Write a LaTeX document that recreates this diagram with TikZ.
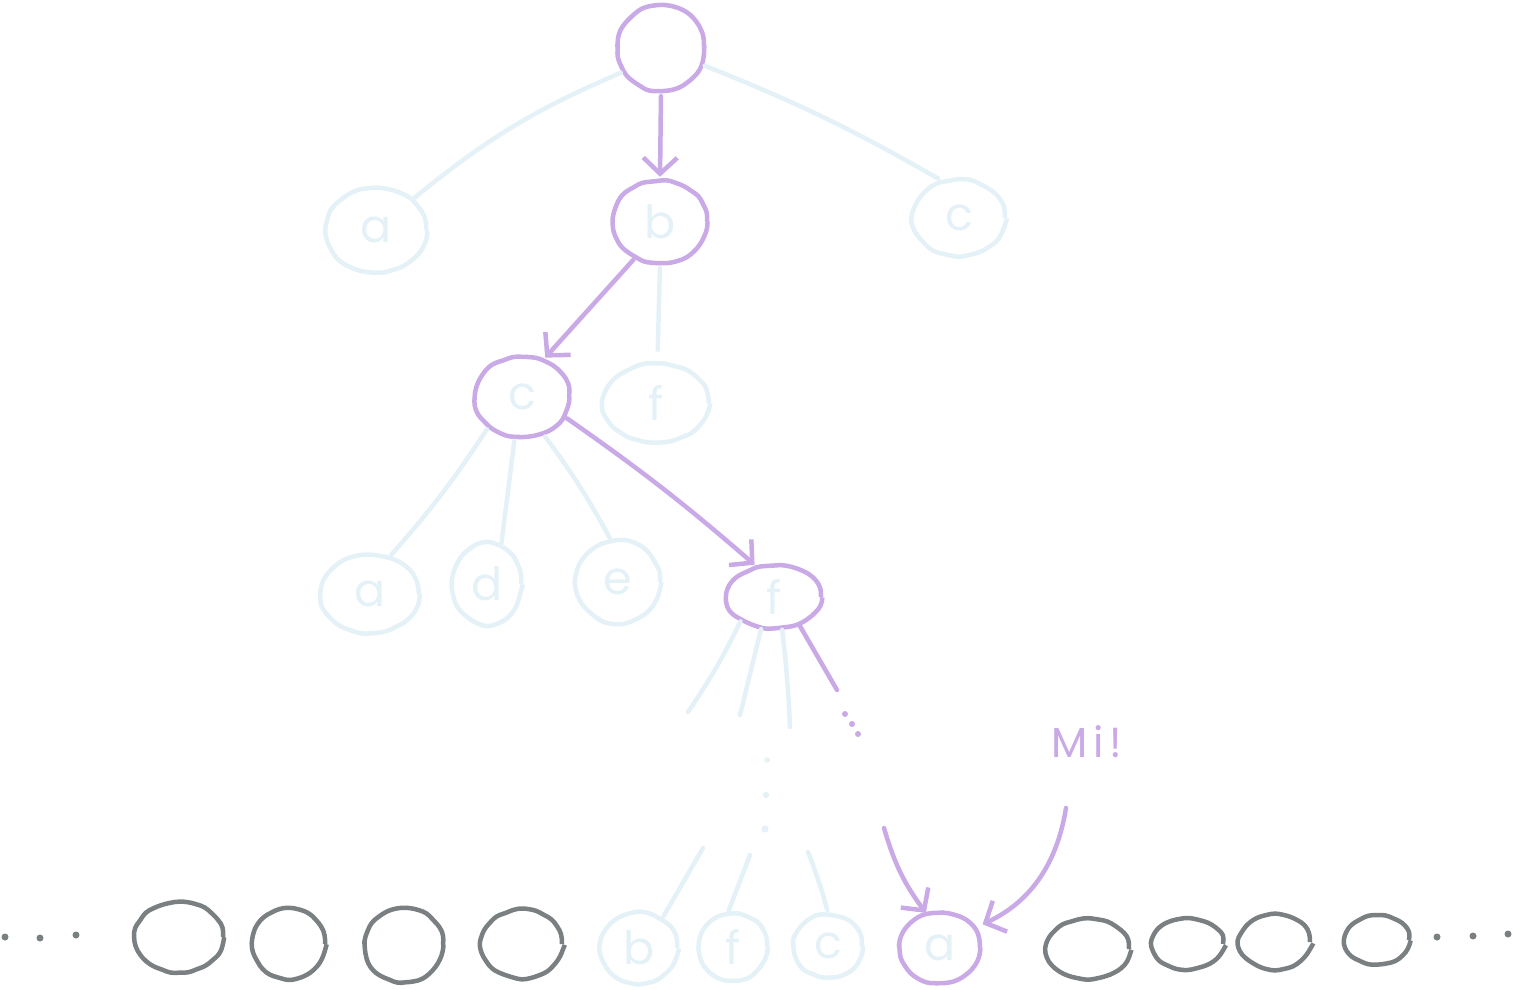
\documentclass[tikz,border=0pt]{standalone}
\usepackage{fontspec}
\setmainfont{Poppins}
\newfontfamily\shout{Poppins}[LetterSpace=14]
\usetikzlibrary{shapes.geometric,arrows.meta,decorations.pathmorphing}
\definecolor{lilac}{HTML}{C9A9E6}
\definecolor{mist}{HTML}{E4F1F7}
\definecolor{slate}{HTML}{7A7F82}
\pgfmathsetseed{11}
\begin{document}
\begin{tikzpicture}[x=1pt,y=-1pt,
  sketch/.style={decorate,decoration={random steps,segment length=9pt,amplitude=0.9pt},rounded corners=4pt},
  bubble/.style={ellipse,inner sep=0pt,line width=4.5pt,sketch,font=\fontsize{46}{46}\selectfont},
  hot/.style={bubble,draw=lilac,text=mist},
  cold/.style={bubble,draw=mist,text=mist},
  dark/.style={bubble,draw=slate},
  link/.style={draw=mist,line width=4.5pt,line cap=round},
  walk/.style={draw=lilac,line width=4.5pt,line cap=round,
    -{Straight Barb[length=16pt,width=34pt,line width=4.5pt]}},
  plain walk/.style={draw=lilac,line width=4.5pt,line cap=round},
]
\useasboundingbox (0,0) rectangle (1513,990);

% --- tree ---
\node[hot, minimum width=86pt, minimum height=86pt] (root) at (661,48) {};
\node[cold, minimum width=100pt, minimum height=84pt] (a1) at (376,230) {a};
\node[hot, minimum width=94pt, minimum height=82pt] (b1) at (660,222) {b};
\node[cold, minimum width=92pt, minimum height=76pt] (c1) at (959,218) {c};
\node[hot, minimum width=94pt, minimum height=80pt] (c2) at (522,397) {c};
\node[cold, minimum width=106pt, minimum height=78pt] (f2) at (656,403) {f};
\node[cold, minimum width=98pt, minimum height=78pt] (a3) at (370,594) {a};
\node[cold, minimum width=68pt, minimum height=80pt] (d3) at (487,584) {d};
\node[cold, minimum width=84pt, minimum height=82pt] (e3) at (618,582) {e};
\node[hot, minimum width=94pt, minimum height=62pt] (f3) at (774,597) {f};

\draw[link, shorten <=2pt, shorten >=2pt] (root.212) to[bend right=8] (a1.40);
\draw[link, shorten <=2pt, shorten >=4pt] (root.338) to[bend left=4] (c1.115);
\draw[walk, shorten <=3pt, shorten >=2pt] (root.south) -- (b1.north);
\draw[walk, shorten <=1pt, shorten >=2pt] (b1.235) -- (c2.60);
\draw[link, shorten <=3pt, shorten >=12pt] (b1.south) -- (f2.88);
\draw[link, shorten <=2pt, shorten >=2pt] (c2.222) to[bend left=4] (a3.62);
\draw[link, shorten <=2pt, shorten >=2pt] (c2.260) -- (d3.70);
\draw[link, shorten <=2pt, shorten >=2pt] (c2.300) to[bend left=4] (e3.100);
\draw[walk, shorten <=2pt, shorten >=2pt] (c2.335) to[bend left=3] (f3.120);

% --- fan below f ---
\coordinate (t1) at (688,712);
\coordinate (t2) at (740,715);
\coordinate (t3) at (790,727);
\coordinate (t4) at (837,690);
\draw[link] (f3.216) to[bend left=4] (t1);
\draw[link] (f3.248) -- (t2);
\draw[link] (f3.284) to[bend left=2] (t3);
\draw[plain walk] (f3.312) -- (t4);
\fill[lilac] (845,714) circle (3pt) (852,724) circle (3pt) (858,734) circle (3pt);
\fill[mist] (767,760) circle (2.8pt) (766,795) circle (3.2pt) (765,829) circle (3.6pt);

% --- bottom row ---
\node[dark, minimum width=88pt, minimum height=70pt] (k1) at (179,937) {};
\node[dark, minimum width=72pt, minimum height=70pt] (k2) at (289,944) {};
\node[dark, minimum width=78pt, minimum height=74pt] (k3) at (404,945) {};
\node[dark, minimum width=80pt, minimum height=68pt] (k4) at (522,944) {};
\node[cold, minimum width=76pt, minimum height=70pt] (bb) at (639,948) {b};
\node[cold, minimum width=68pt, minimum height=66pt] (bf) at (733,947) {f};
\node[cold, minimum width=68pt, minimum height=62pt] (bc) at (828,946) {c};
\node[hot, minimum width=80pt, minimum height=70pt] (ba) at (940,948) {a};
\node[dark, minimum width=82pt, minimum height=60pt] (k5) at (1088,949) {};
\node[dark, minimum width=70pt, minimum height=50pt] (k6) at (1188,944) {};
\node[dark, minimum width=70pt, minimum height=54pt] (k7) at (1275,942) {};
\node[dark, minimum width=64pt, minimum height=48pt] (k8) at (1377,940) {};
\fill[slate] (5,937) circle (3.5pt) (40,938) circle (3.5pt) (76,935) circle (3.5pt);
\fill[slate] (1437,937) circle (3.5pt) (1473,936) circle (3.5pt) (1508,934) circle (3.5pt);

\coordinate (u1) at (703,848);
\coordinate (u2) at (750,855);
\coordinate (u3) at (808,852);
\draw[link, shorten >=2pt] (u1) -- (bb.52);
\draw[link, shorten >=2pt] (u2) -- (bf.98);
\draw[link, shorten >=3pt] (u3) to[bend left=3] (bc.90);

\coordinate (v1) at (884,828);
\draw[walk, shorten >=0pt] (v1) to[bend right=10] (ba.112);

% --- label ---
\node[text=lilac, font=\shout\fontsize{42}{42}\selectfont] (mi) at (1087,742) {Mi!};
\coordinate (m0) at (1066,808);
\draw[walk, shorten >=8pt] (m0) to[bend left=28] (ba.30);
\end{tikzpicture}
\end{document}
